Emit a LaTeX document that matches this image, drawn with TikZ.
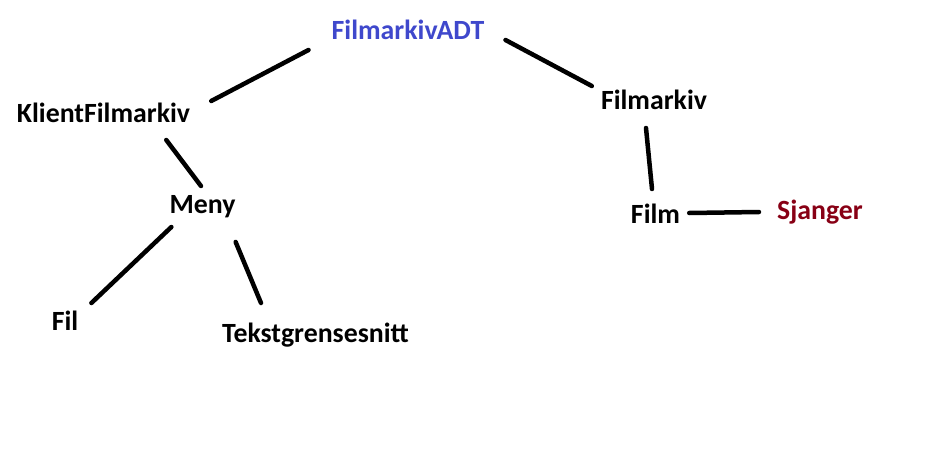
\documentclass[tikz,border=0pt]{standalone}
\usepackage{fontspec}
\setmainfont{Carlito}
\definecolor{adtblue}{RGB}{63,72,204}
\definecolor{sjangerred}{RGB}{136,0,21}
\begin{document}
\begin{tikzpicture}[x=1pt, y=-1pt, every node/.style={font=\bfseries\fontsize{27.8}{33}\selectfont, anchor=base, inner sep=0pt}, link/.style={line width=4.5pt, line cap=round}]
\useasboundingbox (0,0) rectangle (936,452);
\foreach \n/\x/\y/\c/\t in {
	adt/408/40/adtblue/FilmarkivADT
	,klient/103.5/122/black/KlientFilmarkiv
	,arkiv/654/109/black/Filmarkiv
	%
	,meny/202.5/213/black/Meny
	,fil/65/330/black/Fil
	,tekst/315.5/342/black/Tekstgrensesnitt
	%
	,film/655.5/223/black/Film
	,sjanger/820/219/sjangerred/Sjanger
}{
	\node[text=\c](\n) at(\x,\y){\t};
}
\foreach \u/\du/\v/\dv in {%
	klient.base east/{21,-21}/adt.base west/{-23,10}%
	,adt.base east/{21,0}/arkiv.base west/{-9,-23}%
	%
	,klient.base east/{-24,18}/meny.base/{-1.5,-27}%
	,meny.base west/{2,14}/fil.base east/{13,-27}%
	,meny.base east/{0,29}/tekst.base/{-54.5,-39}%
	%
	,arkiv.base/{-8,19}/film.base/{-3.5,-34}%
	,film.base east/{9,-10}/sjanger.base west/{-18,-7}%
}{
\draw[link] ([shift={(\du)}]\u) -- ([shift={(\dv)}]\v);
}
\end{tikzpicture}
\end{document}
